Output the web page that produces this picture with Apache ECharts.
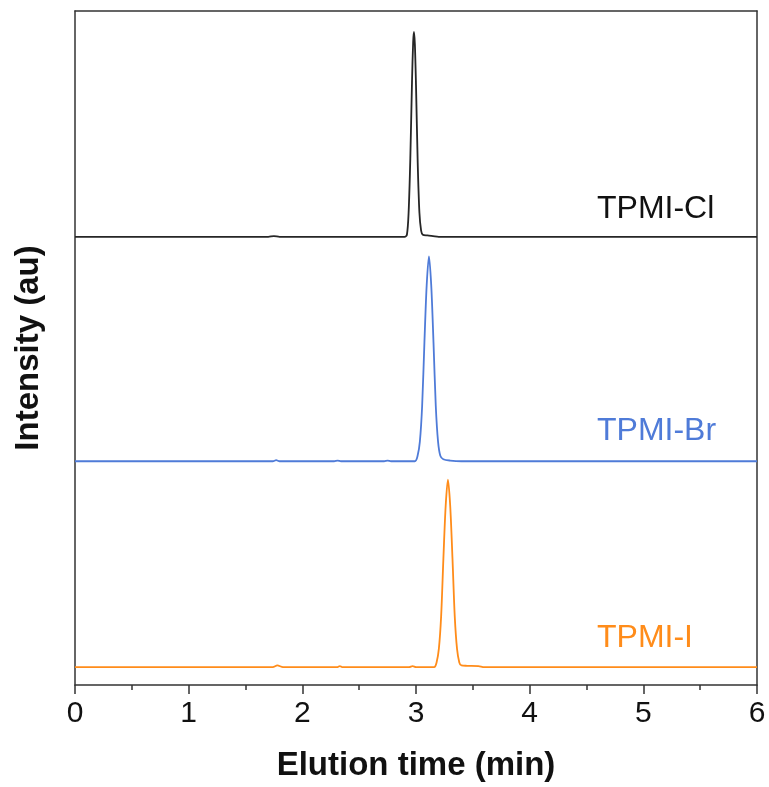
<!DOCTYPE html>
<html>
<head>
<meta charset="utf-8">
<script src="https://cdn.jsdelivr.net/npm/echarts@6/dist/echarts.min.js"></script>
<style>html,body{margin:0;padding:0;background:#fff}#c{width:769px;height:787px}</style>
</head>
<body>
<div id="c"></div>
<script>
// Elution time (min) vs intensity (stacked, arbitrary units)
const xTicks = [0, 1, 2, 3, 4, 5, 6];
const seriesNames = ['TPMI-Cl', 'TPMI-Br', 'TPMI-I'];
const tpmiCl = [[0,66.5],[1.70,66.5],[1.75,66.6],[1.80,66.5],[2.90,66.5],[2.92,66.8],[2.935,70.1],[2.95,78.1],[2.965,89.6],[2.975,95.4],[2.982,96.9],[2.99,95.1],[3.0,89.0],[3.015,77.5],[3.03,70.1],[3.045,67.4],[3.06,66.8],[3.1,66.7],[3.15,66.6],[3.2,66.5],[6,66.5]];
const tpmiBr = [[0,33.2],[1.74,33.2],[1.77,33.35],[1.80,33.2],[2.28,33.2],[2.31,33.3],[2.34,33.2],[2.72,33.2],[2.75,33.3],[2.78,33.2],[2.99,33.2],[3.014,34.0],[3.034,36.1],[3.054,41.4],[3.074,50.8],[3.094,59.3],[3.114,63.6],[3.134,59.3],[3.154,50.8],[3.174,41.4],[3.194,36.1],[3.214,34.0],[3.24,33.5],[3.3,33.3],[3.4,33.2],[6,33.2]];
const tpmiI = [[0,2.65],[1.74,2.65],[1.78,2.9],[1.83,2.65],[2.31,2.65],[2.33,2.8],[2.35,2.65],[2.94,2.65],[2.97,2.8],[3.0,2.65],[3.16,2.65],[3.181,3.35],[3.201,5.35],[3.221,10.15],[3.241,18.75],[3.261,26.55],[3.281,30.45],[3.301,26.55],[3.321,18.75],[3.341,10.15],[3.361,5.35],[3.381,3.35],[3.40,2.9],[3.45,2.85],[3.55,2.8],[3.6,2.65],[6,2.65]];
const colors = ['#262626', '#4f7bd8', '#ff8c1a'];
const labelColors = ['#111111', '#4f7bd8', '#ff8c1a'];

const chart = echarts.init(document.getElementById('c'), null, {renderer: 'canvas'});
const FONT = '"Liberation Sans", Arial, sans-serif';
const frame = {lineStyle: {color: '#333', width: 1.5}};
const datasets = [tpmiCl, tpmiBr, tpmiI];
chart.setOption({
  animation: false,
  backgroundColor: '#fff',
  grid: {left: 75, right: 12, top: 11, bottom: 98},
  xAxis: [{
    type: 'value', min: xTicks[0], max: xTicks[xTicks.length - 1], interval: 1,
    axisLine: {show: true, onZero: false, lineStyle: {color: '#333', width: 1.5}},
    axisTick: {show: true, inside: false, length: 9, lineStyle: {color: '#333', width: 1.5}},
    minorTick: {show: true, splitNumber: 2, length: 5, lineStyle: {color: '#333', width: 1.5}},
    splitLine: {show: false},
    axisLabel: {fontFamily: FONT, fontSize: 30, color: '#111', margin: 14},
    name: 'Elution time (min)', nameLocation: 'middle', nameGap: 64,
    nameTextStyle: {fontFamily: FONT, fontSize: 33, fontWeight: 'bold', color: '#111'}
  }, {
    type: 'value', position: 'top', min: 0, max: 6,
    axisLine: Object.assign({show: true, onZero: false}, frame),
    axisTick: {show: false}, axisLabel: {show: false}, splitLine: {show: false}
  }],
  yAxis: [{
    type: 'value', min: 0, max: 100,
    axisLine: Object.assign({show: true, onZero: false}, frame),
    axisTick: {show: false}, axisLabel: {show: false}, splitLine: {show: false},
    name: 'Intensity (au)', nameLocation: 'middle', nameGap: 30,
    nameTextStyle: {fontFamily: FONT, fontSize: 33, fontWeight: 'bold', color: '#111'}
  }, {
    type: 'value', position: 'right', min: 0, max: 100,
    axisLine: Object.assign({show: true, onZero: false}, frame),
    axisTick: {show: false}, axisLabel: {show: false}, splitLine: {show: false}
  }],
  series: datasets.map((d, i) => ({
    name: seriesNames[i], type: 'line', data: d, symbol: 'none', smooth: 0.3,
    lineStyle: {color: colors[i], width: 1.8}, z: 3 - i
  })),
  graphic: [
    {type: 'text', left: 597, top: 193, style: {text: seriesNames[0], font: '32px ' + FONT, fill: labelColors[0]}},
    {type: 'text', left: 597, top: 415, style: {text: seriesNames[1], font: '32px ' + FONT, fill: labelColors[1]}},
    {type: 'text', left: 597, top: 622, style: {text: seriesNames[2], font: '32px ' + FONT, fill: labelColors[2]}}
  ]
});
</script>
</body>
</html>
